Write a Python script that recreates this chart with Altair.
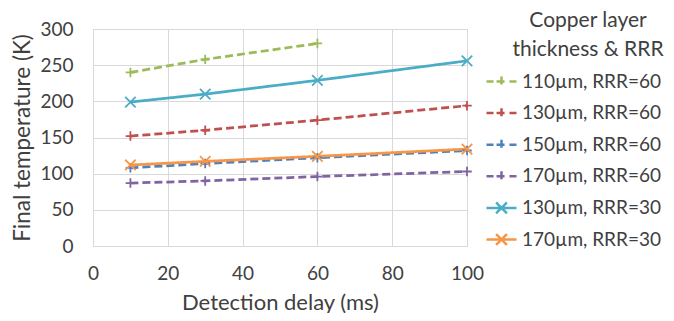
import altair as alt
import pandas as pd

delays = [10, 30, 60, 100]
series_names = ["110µm, RRR=60", "130µm, RRR=60", "150µm, RRR=60",
                "170µm, RRR=60", "130µm, RRR=30", "170µm, RRR=30"]
t_110_60 = [240, 258, 280]
t_130_60 = [152, 160, 174, 194]
t_150_60 = [108, 114, 122, 132]
t_170_60 = [87, 90, 96, 103]
t_130_30 = [199, 210, 229, 256]
t_170_30 = [112, 117, 124, 134]
series_values = [t_110_60, t_130_60, t_150_60, t_170_60, t_130_30, t_170_30]
series_marker = ["plus", "plus", "plus", "plus", "x", "x"]
colors = ["#9BBB59", "#C0504D", "#4F81BD", "#8064A2", "#4BACC6", "#F79646"]
x_ticks = [0, 20, 40, 60, 80, 100]
y_ticks = [0, 50, 100, 150, 200, 250, 300]

rows = []
for i, (name, vals) in enumerate(zip(series_names, series_values)):
    for d, v in zip(delays, vals):
        rows.append({"series": name, "delay": d, "temp": v, "marker": series_marker[i], "order": i})
df = pd.DataFrame(rows)

FONT = "Lato"
TXT = "#404040"

plus_path = "M-1,0H1M0,-1V1"
x_path = "M-1,-1L1,1M-1,1L1,-1"
leg_dash_plus = "M-1,0H-0.53M-0.33,0H0.33M0.53,0H1M0,-0.33V0.33"
leg_solid_x = "M-1,0H1M-0.36,-0.36L0.36,0.36M-0.36,0.36L0.36,-0.36"

color_scale = alt.Scale(domain=series_names, range=colors)
dash_scale = alt.Scale(domain=series_names, range=[[8, 4]] * 4 + [[1, 0]] * 2)

x_enc = alt.X("delay:Q", scale=alt.Scale(domain=[0, 100], nice=False),
              axis=alt.Axis(values=x_ticks, title="Detection delay (ms)", grid=True,
                            domain=False, ticks=False, tickSize=0, labelPadding=18,
                            titlePadding=9, labelFontSize=19, titleFontSize=22,
                            labelFont=FONT, titleFont=FONT, labelColor=TXT, titleColor=TXT,
                            titleFontWeight="normal", gridColor="#d9d9d9", labelFlush=False))
y_enc = alt.Y("temp:Q", scale=alt.Scale(domain=[0, 300], nice=False),
              axis=alt.Axis(values=y_ticks, title="Final temperature (K)", grid=True,
                            domain=False, ticks=False, tickSize=0, labelPadding=20,
                            titlePadding=5, labelFontSize=19, titleFontSize=22.5,
                            labelFont=FONT, titleFont=FONT, labelColor=TXT, titleColor=TXT,
                            titleFontWeight="normal", gridColor="#d9d9d9", labelFlush=False))

leg = alt.Legend(title=None, orient="none", legendX=392, legendY=36,
                 symbolSize=900, symbolStrokeWidth=2.5, labelFontSize=19, labelFont=FONT,
                 labelColor=TXT, labelOffset=4, rowPadding=4.6, padding=0, symbolOpacity=1,
                 labelLimit=300)

base = alt.Chart(df)

legend_layer = base.mark_point(filled=False).encode(
    x=x_enc, y=y_enc,
    color=alt.Color("series:N", scale=color_scale, legend=leg),
    shape=alt.Shape("series:N", scale=alt.Scale(domain=series_names,
                                                range=[leg_dash_plus] * 4 + [leg_solid_x] * 2),
                    legend=leg),
).transform_filter("datum.delay < 0")

lines = base.mark_line(strokeWidth=2.75).encode(
    x=x_enc, y=y_enc,
    color=alt.Color("series:N", scale=color_scale, legend=leg),
    strokeDash=alt.StrokeDash("series:N", scale=dash_scale, legend=None),
    order=alt.Order("delay:Q"),
)

plus_pts = base.mark_point(filled=False, size=90, strokeWidth=1.8, opacity=1,
                           shape=plus_path).encode(
    x=x_enc, y=y_enc,
    color=alt.Color("series:N", scale=color_scale, legend=leg),
).transform_filter("datum.marker == 'plus'")

x_pts = base.mark_point(filled=False, size=110, strokeWidth=1.8, opacity=1,
                        shape=x_path).encode(
    x=x_enc, y=y_enc,
    color=alt.Color("series:N", scale=color_scale, legend=leg),
).transform_filter("datum.marker == 'x'")

chart = alt.layer(legend_layer, lines, plus_pts, x_pts).properties(
    width=374, height=217,
    padding={"left": 85, "top": 21, "right": 199, "bottom": 67},
    autosize=alt.AutoSizeParams(type="none"),
    title=alt.TitleParams(["Copper layer", "thickness & RRR"], anchor="end", align="center",
                          dx=121, dy=44, fontSize=21, font=FONT, color=TXT,
                          fontWeight="normal", frame="group", lineHeight=29),
).configure_view(stroke="#d9d9d9", strokeWidth=1.5).configure(background="white")

chart.save("out.html", embed_options={"renderer": "svg", "actions": False})
